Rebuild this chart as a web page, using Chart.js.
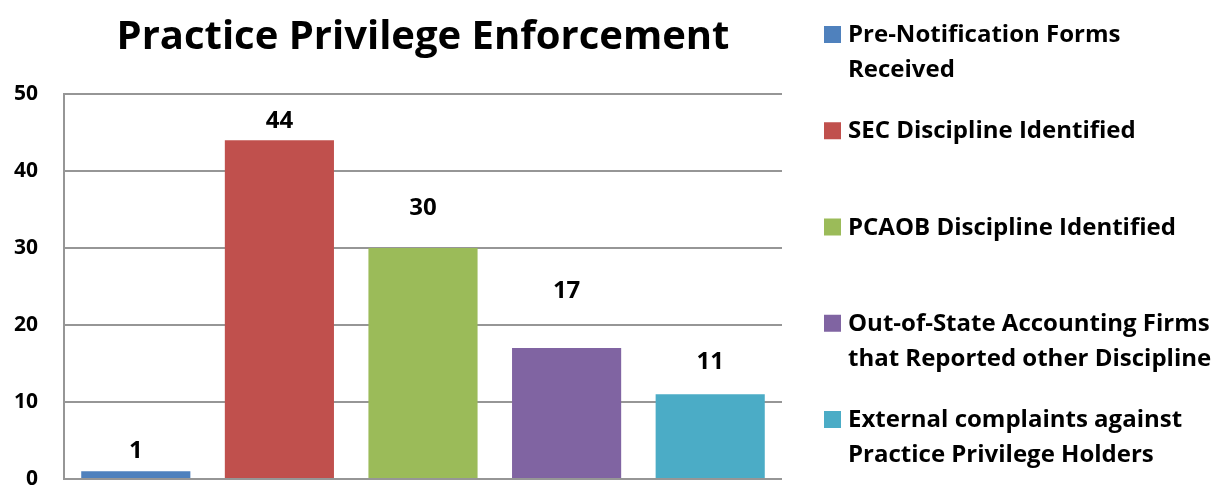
<!DOCTYPE html>
<html>
<head>
<meta charset="utf-8">
<title>Practice Privilege Enforcement</title>
<script src="https://cdn.jsdelivr.net/npm/chart.js@4/dist/chart.umd.min.js"></script>
<style>
  html, body { margin: 0; padding: 0; background: #ffffff; }
  #wrap { position: relative; width: 1219px; height: 485px; }
</style>
</head>
<body>
<div id="wrap"><canvas id="chart" width="1219" height="485"></canvas></div>
<script>
// Series shown as one bar each
const seriesNames = [
  ['Pre-Notification Forms', 'Received'],
  ['SEC Discipline Identified'],
  ['PCAOB Discipline Identified'],
  ['Out-of-State Accounting Firms', 'that Reported other Discipline'],
  ['External complaints against', 'Practice Privilege Holders']
];
const seriesValues = [1, 44, 30, 17, 11];
const seriesColors = ['#4F81BD', '#C0504D', '#9BBB59', '#8064A2', '#4BACC6'];
const yTicks = [0, 10, 20, 30, 40, 50];

// Distance (px) between each bar top and the centre of its value label
const labelGap = [20, 19, 40, 57, 32];

const FONT = '"Open Sans", "Noto Sans", sans-serif';

// Value labels drawn above each bar
const valueLabels = {
  id: 'valueLabels',
  afterDatasetsDraw(chart) {
    const ctx = chart.ctx;
    ctx.save();
    ctx.font = 'bold 24px ' + FONT;
    ctx.fillStyle = '#000000';
    ctx.textAlign = 'center';
    ctx.textBaseline = 'middle';
    chart.data.datasets.forEach((ds, i) => {
      const bar = chart.getDatasetMeta(i).data[0];
      if (!bar) return;
      ctx.fillText(String(ds.data[0]), bar.x, bar.y - labelGap[i]);
    });
    ctx.restore();
  }
};

// Legend on the right with wrapped names
const sideLegend = {
  id: 'sideLegend',
  afterDraw(chart, args, opts) {
    const ctx = chart.ctx;
    ctx.save();
    ctx.font = 'bold 24px ' + FONT;
    ctx.textAlign = 'left';
    ctx.textBaseline = 'alphabetic';
    chart.data.datasets.forEach((ds, i) => {
      const base = opts.top + i * opts.step;
      ctx.fillStyle = ds.backgroundColor;
      ctx.fillRect(opts.x, base - 16, 17, 17);
      ctx.fillStyle = '#000000';
      ds.legendLines.forEach((line, j) => {
        ctx.fillText(line, opts.x + 24, base + j * opts.lineHeight);
      });
    });
    ctx.restore();
  }
};

const datasets = seriesNames.map((name, i) => ({
  label: name.join(' '),
  legendLines: name,
  data: [seriesValues[i]],
  backgroundColor: seriesColors[i],
  borderWidth: 0,
  barPercentage: 0.76,
  categoryPercentage: 1.0
}));

new Chart(document.getElementById('chart'), {
  type: 'bar',
  data: { labels: [''], datasets },
  options: {
    responsive: false,
    animation: false,
    layout: { padding: { left: 0, right: 437, top: 0, bottom: 6 } },
    plugins: {
      legend: { display: false },
      tooltip: { enabled: false },
      title: {
        display: true,
        text: 'Practice Privilege Enforcement',
        color: '#000000',
        fullSize: false,
        font: { family: FONT, size: 40, weight: 'bold', lineHeight: 1.2 },
        padding: { top: 14, bottom: 32 }
      },
      sideLegend: { x: 824, top: 42, step: 96.25, lineHeight: 35 }
    },
    scales: {
      x: { display: false },
      y: {
        min: yTicks[0],
        max: yTicks[yTicks.length - 1],
        afterBuildTicks(scale) {
          scale.ticks = yTicks.map(v => ({ value: v }));
        },
        afterFit(scale) {
          scale.width = 64;
          scale.paddingTop = 0;
          scale.paddingBottom = 0;
        },
        grid: { color: '#969696', lineWidth: 2, drawTicks: false },
        border: { display: true, color: '#969696', width: 2 },
        ticks: {
          padding: 26,
          color: '#000000',
          font: { family: FONT, size: 21, weight: 'bold' }
        }
      }
    }
  },
  plugins: [valueLabels, sideLegend]
});
</script>
</body>
</html>
